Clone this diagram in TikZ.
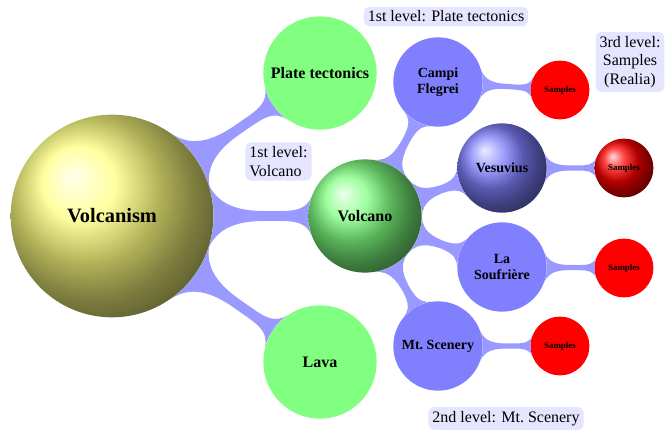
\documentclass[tikz,border=0pt]{standalone}
\usepackage{fontspec}
\setmainfont{Liberation Serif}
\usetikzlibrary{mindmap,backgrounds}

\begin{document}
\begin{tikzpicture}[
  x=0.75pt, y=-0.75pt,
  idea/.style={circle, inner sep=0pt, align=center, text=black},
  rootidea/.style={idea, minimum size=152pt, font=\fontsize{15.3}{18}\selectfont\bfseries},
  firstidea/.style={idea, minimum size=85pt, fill=green!50, font=\fontsize{12}{14}\selectfont\bfseries},
  secondidea/.style={idea, minimum size=67pt, fill=blue!50, font=\fontsize{10.5}{12}\selectfont\bfseries},
  thirdidea/.style={idea, minimum size=44pt, fill=red, font=\fontsize{6.7}{8}\selectfont\bfseries},
  note/.style={fill=blue!10, rounded corners=4pt, inner sep=3pt, align=center,
               font=\fontsize{12}{14}\selectfont},
  bar/.style={line width=8pt, circle connection bar switch color=from (blue!40) to (blue!40)},
]
\useasboundingbox (0,0) rectangle (665,431);

% concepts
\node[rootidea, ball color=yellow!50] (volcanism) at (112,216) {Volcanism};
\node[firstidea] (tectonics) at (320,73) {Plate tectonics};
\node[firstidea] (lava) at (320,362) {Lava};
\node[firstidea, fill=none, ball color=green!50] (volcano) at (365,216) {Volcano};
\node[secondidea] (campi) at (438,82) {Campi\\Flegrei};
\node[secondidea, fill=none, ball color=blue!50] (vesuvius) at (502,168) {Vesuvius};
\node[secondidea] (soufriere) at (502,267) {La\\Soufrière};
\node[secondidea] (scenery) at (438,346) {Mt.~Scenery};
\node[thirdidea] (samplesa) at (560,90) {Samples};
\node[thirdidea, fill=none, ball color=red] (samplesb) at (624,168) {Samples};
\node[thirdidea] (samplesc) at (624,268) {Samples};
\node[thirdidea] (samplesd) at (560,346) {Samples};

% connection bars
\begin{pgfonlayer}{background}
\path (volcanism) to[bar] (tectonics);
\path (volcanism) to[bar] (volcano);
\path (volcanism) to[bar] (lava);
\path (volcano) to[bar] (campi);
\path (volcano) to[bar] (vesuvius);
\path (volcano) to[bar] (soufriere);
\path (volcano) to[bar] (scenery);
\path (campi) to[bar] (samplesa);
\path (vesuvius) to[bar] (samplesb);
\path (soufriere) to[bar] (samplesc);
\path (scenery) to[bar] (samplesd);
\end{pgfonlayer}

% annotations
\node[note] (notetect) at (446,16.5) {1st level: Plate tectonics};
\node[note, align=left] (notevolc) at (278.5,161.5) {1st level:\\Volcano};
\node[note] (notesamp) at (630,62) {3rd level:\\Samples\\(Realia)};
\node[note] (notescen) at (506,418.5) {2nd level: Mt.~Scenery};
\end{tikzpicture}
\end{document}
